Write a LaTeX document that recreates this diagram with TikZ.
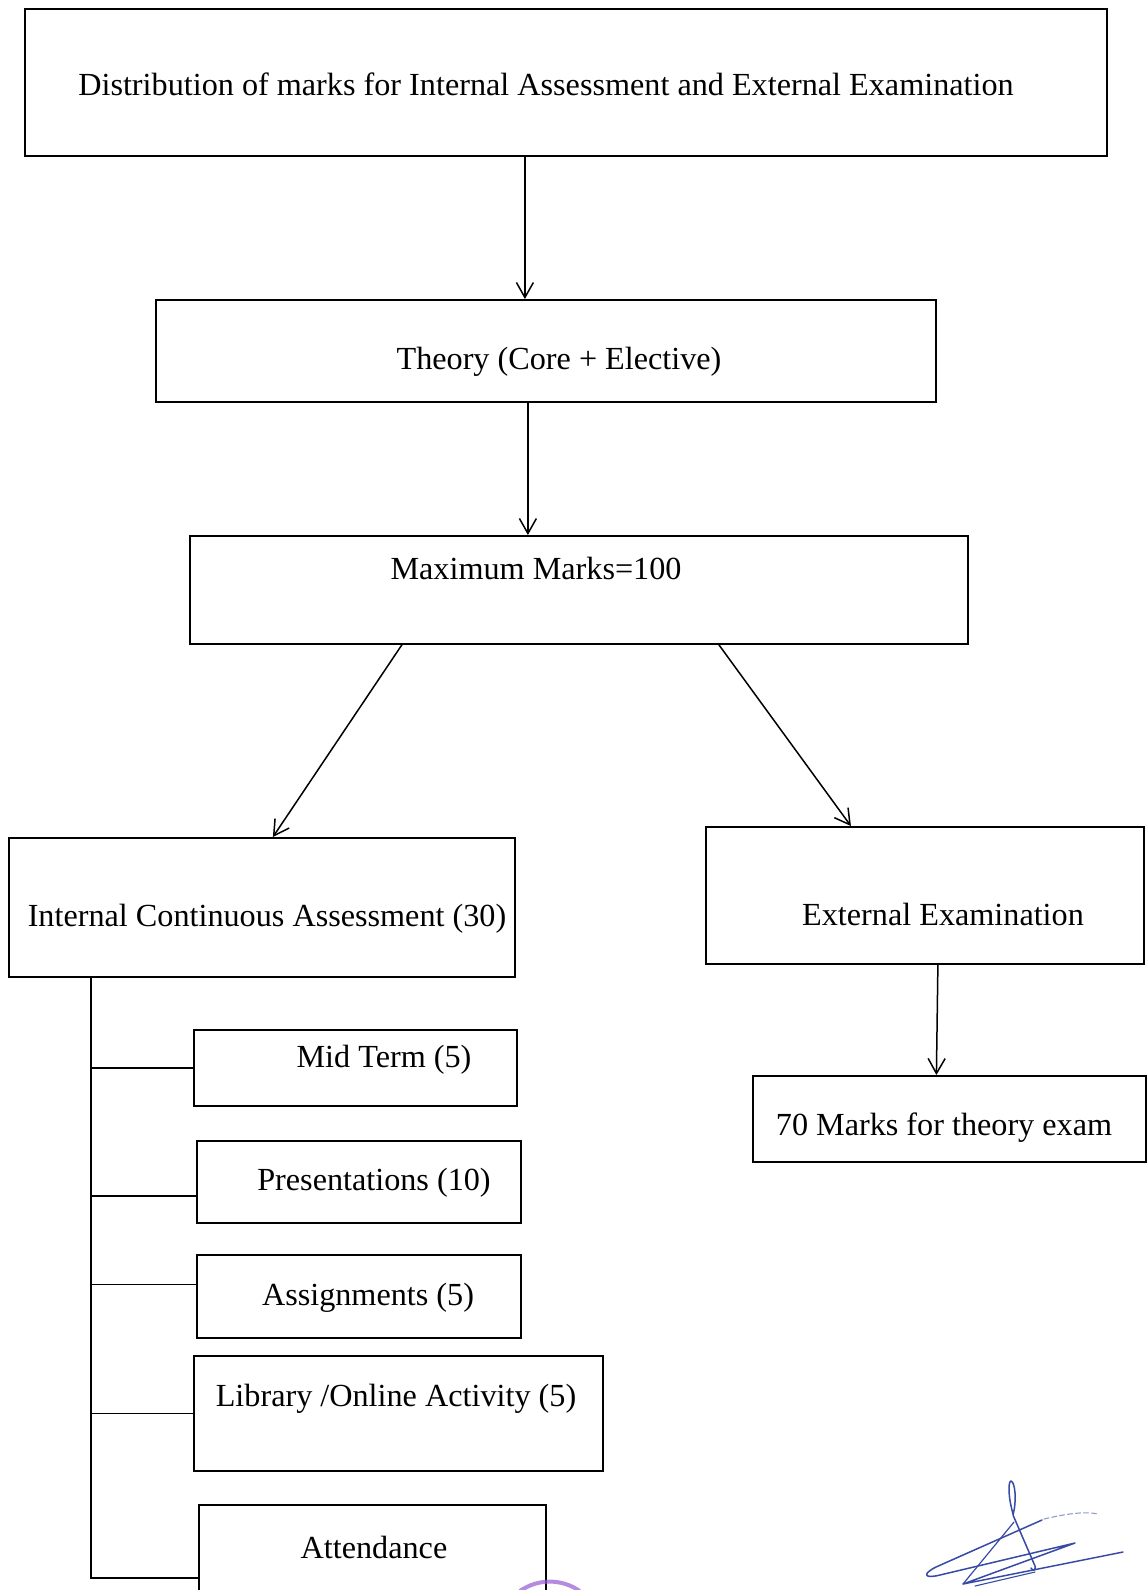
\documentclass[tikz,border=0pt]{standalone}
\usepackage{fontspec}
\setmainfont{Liberation Serif}
\usetikzlibrary{arrows.meta}
\definecolor{inkblue}{RGB}{55,75,165}
\definecolor{stamp}{RGB}{150,90,210}
\begin{document}
\begin{tikzpicture}[x=1pt,y=-1pt,
  box/.style={draw=black,line width=1.8pt,rectangle,inner sep=0pt,anchor=north west},
  txt/.style={inner sep=0pt,font=\fontsize{32.2}{38}\selectfont},
  arr/.style={line width=1.5pt,-{Straight Barb[length=15pt,width=17pt,line width=1.5pt]}},
  link/.style={line width=1.8pt},
  sig/.style={inkblue,line width=1.5pt,line cap=round,line join=round}]
\useasboundingbox (0,0) rectangle (1148,1590);
\fill[white] (0,0) rectangle (1148,1590);
% boxes
\node[box,minimum width=1082pt,minimum height=147pt] (top) at (24,8) {};
\node[box,minimum width=780pt,minimum height=102pt] (theory) at (155,299) {};
\node[box,minimum width=778pt,minimum height=108pt] (max) at (189,535) {};
\node[box,minimum width=506pt,minimum height=139pt] (ica) at (8,837) {};
\node[box,minimum width=438pt,minimum height=137pt] (ext) at (705,826) {};
\node[box,minimum width=393pt,minimum height=86pt] (seventy) at (752,1075) {};
\node[box,minimum width=323pt,minimum height=76pt] (mid) at (193,1029) {};
\node[box,minimum width=324pt,minimum height=82pt] (pres) at (196,1140) {};
\node[box,minimum width=324pt,minimum height=83pt] (assign) at (196,1254) {};
\node[box,minimum width=409pt,minimum height=115pt] (lib) at (193,1355) {};
\node[box,minimum width=347pt,minimum height=86pt] (att) at (198,1504) {};
% texts
\node[txt] (toptxt) at (546,84) {Distribution of marks for Internal Assessment and External Examination};
\node[txt] (theorytxt) at (559,362) {Theory (Core + Elective)};
\node[txt] (maxtxt) at (536,568) {Maximum Marks=100};
\node[txt] (icatxt) at (267,919) {Internal Continuous Assessment (30)};
\node[txt] (exttxt) at (943,914) {External Examination};
\node[txt] (seventytxt) at (944,1128) {70 Marks for theory exam};
\node[txt] (midtxt) at (384,1060) {Mid Term (5)};
\node[txt] (prestxt) at (374,1183) {Presentations (10)};
\node[txt] (assigntxt) at (368,1298) {Assignments (5)};
\node[txt] (libtxt) at (396,1399) {Library /Online Activity (5)};
\node[txt] (atttxt) at (374,1547) {Attendance};
% arrows
\draw[arr] ([xshift=-41pt]top.south) -- ([xshift=-21pt]theory.north);
\draw[arr] ([xshift=-18pt]theory.south) -- ([xshift=-51pt]max.north);
\draw[arr] ([xshift=-177pt]max.south) -- ([xshift=11pt]ica.north);
\draw[arr] ([xshift=140pt]max.south) -- ([xshift=-74pt]ext.north);
\draw[arr] ([xshift=13pt]ext.south) -- ([xshift=-13pt]seventy.north);
% tree of internal assessment
\coordinate (sx) at (90,0);
\path ([yshift=-14pt]pres.west) coordinate (pw);
\path ([yshift=12pt]assign.west) coordinate (aw);
\path ([yshift=-30pt]att.west) coordinate (tw);
\draw[link] ([xshift=-171pt]ica.south) |- (tw);
\draw[link] (sx |- mid.west) -- (mid.west);
\draw[link] (sx |- pw) -- (pw);
\draw[link] (sx |- aw) -- (aw);
\draw[link] (sx |- lib.west) -- (lib.west);
% signature
\draw[sig] (1013,1514) .. controls (1008,1496) and (1008,1482) .. (1011,1481)
  .. controls (1015,1482) and (1017,1500) .. (1013,1515) -- (1035,1566)
  .. controls (1036,1570) and (1033,1572) .. (1031,1568);
\draw[sig] (1042,1520) -- (936,1567)
  .. controls (922,1574) and (924,1579) .. (940,1575)
  -- (1075,1543) -- (963,1584) -- (1123,1552);
\draw[sig,line width=1.2pt] (1014,1522) -- (963,1584);
\draw[sig,line width=1.1pt] (975,1586) -- (1035,1572);
\draw[inkblue!55,line width=1.1pt,line cap=round,dash pattern=on 5pt off 3pt]
  (1044,1519) .. controls (1065,1514) and (1085,1511) .. (1098,1514);
% stamp fragment
\draw[stamp,line width=4pt,opacity=0.7] (520,1591) arc[start angle=-125,end angle=-55,radius=52];
\end{tikzpicture}
\end{document}
